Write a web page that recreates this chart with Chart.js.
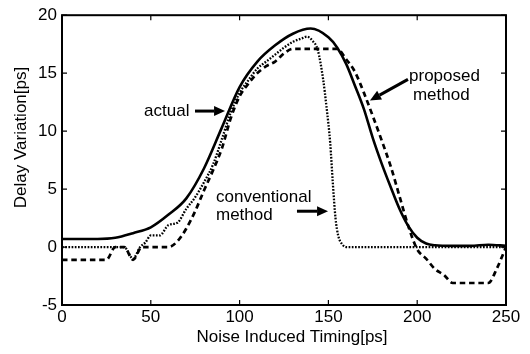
<!DOCTYPE html>
<html>
<head>
<meta charset="utf-8">
<script src="https://cdn.jsdelivr.net/npm/chart.js@4"></script>
<style>
  html, body { margin: 0; padding: 0; background: #fff; }
  #wrap { width: 530px; height: 354px; }
</style>
</head>
<body>
<div id="wrap"><canvas id="myChart" width="530" height="354"></canvas></div>
<script>
const actualX = [0, 10, 20, 30, 40, 50, 60, 70, 80, 90, 100, 110, 120, 130, 140, 150, 155, 160, 165, 170, 175, 180, 185, 190, 195, 200, 205, 210, 220, 230, 240, 250];
const actualY = [0.7, 0.7, 0.7, 0.8, 1.2, 1.7, 2.8, 4.2, 6.8, 10.3, 13.8, 16.0, 17.4, 18.4, 18.85, 18.1, 17.2, 15.8, 13.9, 11.9, 9.4, 7.2, 5.2, 3.3, 1.8, 0.8, 0.3, 0.15, 0.1, 0.1, 0.2, 0.1];

const proposedX = [0, 25, 30, 35, 40, 45, 60, 65, 70, 75, 80, 85, 90, 95, 100, 105, 110, 115, 120, 125, 130, 135, 155, 160, 165, 170, 175, 180, 185, 190, 195, 200, 205, 210, 215, 220, 240, 245, 250];
const proposedY = [-1.1, -1.1, 0, 0, -1.1, 0, 0, 0.5, 1.6, 3.1, 4.9, 6.6, 8.5, 11.1, 13.0, 14.1, 15.0, 15.6, 16.0, 16.7, 17.1, 17.1, 17.1, 16.2, 15.1, 13.3, 11.3, 9.2, 7.0, 4.4, 1.8, -0.2, -1.0, -1.9, -2.4, -3.1, -3.1, -1.8, 0];

const conventionalX = [0, 35, 40, 44, 47, 50, 55, 60, 65, 70, 75, 80, 85, 90, 95, 100, 105, 110, 115, 120, 125, 130, 135, 138, 141, 144, 147, 149, 151, 152.5, 154, 155.5, 158, 160, 250];
const conventionalY = [0, 0, -1.0, 0, 0.4, 1.0, 1.0, 1.9, 2.1, 3.3, 4.3, 5.6, 7.1, 9.3, 11.6, 13.3, 14.4, 15.4, 16.0, 16.6, 17.2, 17.7, 18.0, 18.15, 17.8, 17.0, 14.5, 12.0, 9.0, 5.5, 2.5, 1.0, 0.2, 0, 0];

const xTicks = [0, 50, 100, 150, 200, 250];
const yTicks = [-5, 0, 5, 10, 15, 20];

const xTitle = 'Noise Induced Timing[ps]';
const yTitle = 'Delay Variation[ps]';

const FONT = '"Liberation Sans", Arial, Helvetica, sans-serif';

function pairs(xs, ys) {
  return xs.map((x, i) => ({ x: x, y: ys[i] }));
}

// annotation labels, placed in data units
const notes = [
  { lines: ['actual'], x: 46.2, y: [11.3], from: [74.9, 11.73], to: [91.8, 11.73] },
  { lines: ['proposed', 'method'], x: 195.4, y: [14.3, 12.7], dx: [0, 2.2], from: [194.8, 14.46], to: [173.4, 12.64] },
  { lines: ['conventional', 'method'], x: 86.7, y: [3.89, 2.32], from: [132.3, 3.09], to: [149.8, 3.09] }
];

function drawArrow(ctx, x1, y1, x2, y2) {
  const ang = Math.atan2(y2 - y1, x2 - x1);
  const headLen = 11, headW = 5;
  const bx = x2 - headLen * Math.cos(ang);
  const by = y2 - headLen * Math.sin(ang);
  ctx.lineWidth = 3;
  ctx.beginPath();
  ctx.moveTo(x1, y1);
  ctx.lineTo(bx, by);
  ctx.stroke();
  ctx.beginPath();
  ctx.moveTo(x2, y2);
  ctx.lineTo(bx + headW * Math.sin(ang), by - headW * Math.cos(ang));
  ctx.lineTo(bx - headW * Math.sin(ang), by + headW * Math.cos(ang));
  ctx.closePath();
  ctx.fill();
}

const framePlugin = {
  id: 'matlabFrame',
  afterDraw(chart) {
    const ctx = chart.ctx;
    const a = chart.chartArea;
    const xs = chart.scales.x, ys = chart.scales.y;
    ctx.save();
    ctx.strokeStyle = '#000';
    ctx.fillStyle = '#000';

    // box
    ctx.lineWidth = 2;
    ctx.strokeRect(a.left, a.top, a.right - a.left, a.bottom - a.top);

    // inward ticks on all four sides
    const tl = 5;
    ctx.lineWidth = 1.2;
    ctx.beginPath();
    xTicks.forEach(v => {
      const px = xs.getPixelForValue(v);
      ctx.moveTo(px, a.bottom); ctx.lineTo(px, a.bottom - tl);
      ctx.moveTo(px, a.top); ctx.lineTo(px, a.top + tl);
    });
    yTicks.forEach(v => {
      const py = ys.getPixelForValue(v);
      ctx.moveTo(a.left, py); ctx.lineTo(a.left + tl, py);
      ctx.moveTo(a.right, py); ctx.lineTo(a.right - tl, py);
    });
    ctx.stroke();

    // axis titles
    ctx.font = '17px ' + FONT;
    ctx.textAlign = 'center';
    ctx.textBaseline = 'alphabetic';
    ctx.fillText(xTitle, 292, 341.5);
    ctx.save();
    ctx.translate(26, 137.5);
    ctx.rotate(-Math.PI / 2);
    ctx.fillText(yTitle, 0, 0);
    ctx.restore();

    // annotations
    ctx.textAlign = 'left';
    notes.forEach(n => {
      n.lines.forEach((t, i) => {
        const dx = n.dx ? n.dx[i] : 0;
        ctx.fillText(t, xs.getPixelForValue(n.x + dx), ys.getPixelForValue(n.y[i]));
      });
      drawArrow(ctx,
        xs.getPixelForValue(n.from[0]), ys.getPixelForValue(n.from[1]),
        xs.getPixelForValue(n.to[0]), ys.getPixelForValue(n.to[1]));
    });
    ctx.restore();
  }
};

const ctx = document.getElementById('myChart').getContext('2d');
const chart = new Chart(ctx, {
  type: 'line',
  data: {
    datasets: [
      {
        label: 'actual',
        data: pairs(actualX, actualY),
        borderColor: '#000',
        borderWidth: 2.6,
        pointRadius: 0,
        cubicInterpolationMode: 'monotone'
      },
      {
        label: 'proposed method',
        data: pairs(proposedX, proposedY),
        borderColor: '#000',
        borderWidth: 2.7,
        borderDash: [5.5, 3.8],
        pointRadius: 0,
        cubicInterpolationMode: 'monotone'
      },
      {
        label: 'conventional method',
        data: pairs(conventionalX, conventionalY),
        borderColor: '#000',
        borderWidth: 2.3,
        borderDash: [1.7, 1.5],
        pointRadius: 0,
        cubicInterpolationMode: 'monotone'
      }
    ]
  },
  options: {
    responsive: false,
    animation: false,
    events: [],
    layout: { padding: { top: 11, right: 24, left: 0, bottom: 0 } },
    plugins: {
      legend: { display: false },
      tooltip: { enabled: false }
    },
    scales: {
      x: {
        type: 'linear',
        min: 0,
        max: 250,
        afterFit(scale) { scale.height = 49; },
        afterBuildTicks(scale) { scale.ticks = xTicks.map(v => ({ value: v })); },
        grid: { display: false, drawTicks: false },
        border: { display: false },
        ticks: {
          color: '#000',
          padding: 2,
          maxRotation: 0,
          font: { family: FONT, size: 17 }
        }
      },
      y: {
        type: 'linear',
        min: -5,
        max: 20,
        afterFit(scale) { scale.width = 62; },
        afterBuildTicks(scale) { scale.ticks = yTicks.map(v => ({ value: v })); },
        grid: { display: false, drawTicks: false },
        border: { display: false },
        ticks: {
          color: '#000',
          padding: 5,
          font: { family: FONT, size: 17 }
        }
      }
    }
  },
  plugins: [framePlugin]
});
</script>
</body>
</html>
